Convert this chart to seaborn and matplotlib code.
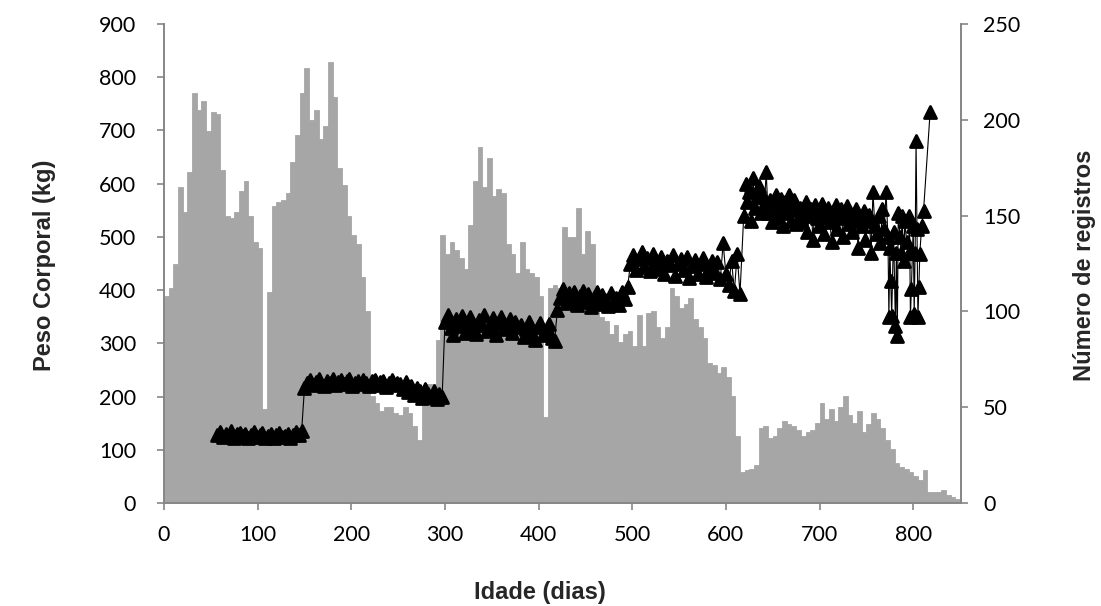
import numpy as np
import pandas as pd
import matplotlib
matplotlib.use("Agg")
import matplotlib.pyplot as plt
from matplotlib.markers import MarkerStyle
import seaborn as sns

# ---------------- data ----------------
# number of records per 5-day age class (0-5, 5-10, ... 845-850)
registros = [
    108, 112, 125, 165, 152, 173, 214, 205, 210, 194,   # 0-45
    204, 203, 174, 150, 149, 152, 163, 168, 150, 136,   # 50-95
    133, 49, 110, 155, 157, 158, 162, 178, 192, 214,    # 100-145
    227, 200, 205, 190, 197, 230, 212, 175, 166, 150,   # 150-195
    140, 135, 118, 100, 56, 52, 48, 50, 50, 47,         # 200-245
    46, 50, 47, 40, 33, 58, 62, 62, 85, 140,            # 250-295
    130, 136, 132, 128, 122, 145, 168, 186, 165, 180,   # 300-345
    160, 164, 162, 135, 130, 120, 136, 122, 120, 118,   # 350-395
    108, 45, 112, 114, 112, 144, 139, 139, 154, 130,    # 400-445
    142, 135, 110, 97, 95, 88, 93, 84, 88, 90,          # 450-495
    82, 98, 82, 99, 100, 92, 86, 92, 112, 108,          # 500-545
    102, 104, 107, 96, 92, 86, 73, 72, 68, 71,          # 550-595
    66, 56, 35, 16, 17, 18, 20, 39, 40, 34,             # 600-645
    35, 39, 43, 41, 40, 38, 35, 37, 38, 42,             # 650-695
    52, 44, 49, 43, 50, 56, 46, 42, 48, 37,             # 700-745
    41, 47, 44, 39, 33, 28, 21, 19, 18, 16,             # 750-795
    14, 12, 17, 6, 6, 6, 7, 4, 3, 2,                    # 800-845
]
largura_classe = 5

# body weight (kg) by age (days), in chronological order
peso_a = [128, 133, 124, 130, 126, 135, 123, 129, 132, 125, 130, 122, 127, 133, 124, 128,
          131, 123, 126, 130, 122, 127, 132, 124, 126, 130, 123, 128, 133, 127, 136]
dias_a = np.arange(57, 148, 3)
peso_b1 = [217, 226, 231, 222, 228, 233, 224, 219, 230, 226, 233, 221, 227, 231, 224, 229, 233,
           220, 226, 230, 223, 232, 225, 219, 229, 232, 222, 227, 230, 218, 225, 231, 221, 226]
dias_b1 = np.arange(150, 250, 3)
peso_b2 = [224, 214, 227, 208, 220, 203, 216, 210, 198, 214, 205, 200, 211, 196, 205, 200]
dias_b2 = np.arange(252, 298, 3)
peso_c1 = [341, 353, 328, 315, 346, 333, 352, 320, 338, 349, 326, 317, 344, 335, 353, 323,
           330, 347, 316, 339, 350, 327, 334, 345, 319, 341, 330]
dias_c1 = np.arange(300, 379, 3)
peso_c2 = [334, 312, 327, 340, 318, 306, 331, 338, 315, 324, 336, 310, 304]
dias_c2 = np.arange(381, 418, 3)
peso_d = [362, 385, 402, 376, 394, 380, 397, 372, 388, 398, 377, 392, 369, 385, 396, 374,
          390, 381, 370, 394, 378, 386, 372, 397, 383, 405]
dias_d = np.arange(420, 496, 3)
peso_e = [450, 466, 438, 458, 472, 444, 460, 435, 468, 452, 440, 463, 430, 455, 447, 466,
          426, 450, 458, 437, 462, 422, 445, 456, 430, 450, 460, 425, 441, 455, 432, 452,
          420, 488, 430, 410, 455, 398, 468, 392]
dias_e = np.arange(498, 616, 3)
peso_f1 = [540, 600, 565, 585, 530, 610, 555, 575, 595, 545, 580, 560]
dias_f1 = np.arange(619, 642, 2)
peso_f2 = [621, 545, 570, 528, 560, 578, 535, 552, 572, 520, 565, 545, 578, 530, 558, 570,
           525, 550]
dias_f2 = np.arange(643, 678, 2)
peso_f3 = [555, 528, 545, 565, 510, 540, 552, 495, 560, 535, 520, 548, 562, 505, 538, 555,
           528, 490, 545, 560, 515, 535, 552, 500, 542, 558, 525]
dias_f3 = np.arange(679, 732, 2)
peso_f4 = [545, 510, 530, 552, 480, 538, 520, 548, 495, 530, 542, 470, 584, 520, 505, 540,
           488, 552, 515, 584]
dias_f4 = np.arange(733, 772, 2)
dias_f5 = [773, 774, 775, 776, 777, 779, 781, 782, 783, 784, 786, 787, 788, 790, 791, 793,
           795, 796, 797, 798, 800, 801, 802, 803, 804, 805, 806, 807, 809, 811, 818]
peso_f5 = [500, 350, 480, 418, 352, 510, 333, 470, 314, 545, 500, 470, 540, 455, 530, 490,
           470, 540, 349, 402, 520, 355, 470, 681, 515, 349, 405, 468, 521, 549, 734]

x_ticks = [0, 100, 200, 300, 400, 500, 600, 700, 800]
y_left_ticks = [0, 100, 200, 300, 400, 500, 600, 700, 800, 900]
y_right_ticks = [0, 50, 100, 150, 200, 250]

titulo_x = "Idade (dias)"
titulo_y_esq = "Peso Corporal (kg)"
titulo_y_dir = "Número de registros"

# ---------------- tables ----------------
n_classes = len(registros)
df_reg = pd.DataFrame({"dia": np.arange(n_classes) * largura_classe + largura_classe / 2,
                       "n": registros})

dias_peso = np.concatenate([dias_a, dias_b1, dias_b2, dias_c1, dias_c2, dias_d, dias_e,
                            dias_f1, dias_f2, dias_f3, dias_f4, dias_f5])
pesos = np.concatenate([peso_a, peso_b1, peso_b2, peso_c1, peso_c2, peso_d, peso_e,
                        peso_f1, peso_f2, peso_f3, peso_f4, peso_f5])
df_peso = pd.DataFrame({"dia": dias_peso, "peso": pesos})

# ---------------- style ----------------
sns.set_style("white")
plt.rcParams["font.family"] = ["Lato", "DejaVu Sans"]
spine_col = "#868686"
bar_col = "#a6a6a6"

W, H = 1101, 606
fig = plt.figure(figsize=(W / 100, H / 100), dpi=100)
ax_l = fig.add_axes([164 / W, 1 - 503 / H, (961 - 164) / W, (503 - 24) / H])
ax_r = ax_l.twinx()
ax_l.set_zorder(ax_r.get_zorder() + 1)
ax_l.patch.set_visible(False)

sns.histplot(data=df_reg, x="dia", weights="n", binwidth=largura_classe,
             binrange=(0, n_classes * largura_classe), ax=ax_r,
             color=bar_col, alpha=1, edgecolor=bar_col, linewidth=0.6)

sns.lineplot(data=df_peso, x="dia", y="peso", ax=ax_l, estimator=None, sort=False,
             color="black", linewidth=0.8,
             marker=MarkerStyle("^", joinstyle="round"), markersize=9,
             markeredgecolor="black", markeredgewidth=2.0)
for ln in ax_l.lines:
    ln.set_solid_joinstyle("round")
    ln.set_markeredgewidth(2.0)

ax_l.set_xlim(0, 851)
ax_l.set_ylim(0, 900)
ax_r.set_ylim(0, 250)
ax_l.set_xticks(x_ticks)
ax_l.set_yticks(y_left_ticks)
ax_r.set_yticks(y_right_ticks)
for a in (ax_l, ax_r):
    a.set_xlabel("")
    a.set_ylabel("")
    a.grid(False)

for a in (ax_l, ax_r):
    a.spines["top"].set_visible(False)
ax_l.spines["right"].set_visible(False)
ax_r.spines["left"].set_visible(False)
ax_r.spines["bottom"].set_visible(False)
for s in ("left", "bottom"):
    ax_l.spines[s].set_color(spine_col)
    ax_l.spines[s].set_linewidth(1.4)
ax_r.spines["right"].set_color(spine_col)
ax_r.spines["right"].set_linewidth(1.4)

fs = 15.5
ax_l.tick_params(axis="y", left=True, length=5, width=1.2, color=spine_col, pad=15,
                 labelsize=fs, labelcolor="black")
ax_l.tick_params(axis="x", bottom=True, length=5, width=1.2, color=spine_col, pad=11,
                 labelsize=fs, labelcolor="black")
ax_r.tick_params(axis="y", right=True, length=5, width=1.2, color=spine_col, pad=11,
                 labelsize=fs, labelcolor="black")

tfont = dict(family=["Liberation Sans", "DejaVu Sans"], weight="bold", fontsize=17)
fig.text(540 / W, 1 - 592 / H, titulo_x, ha="center", va="center", **tfont)
fig.text(45 / W, 1 - 265 / H, titulo_y_esq, ha="center", va="center", rotation=90, **tfont)
fig.text(1085 / W, 1 - 265 / H, titulo_y_dir, ha="center", va="center", rotation=90, **tfont)

fig.savefig("out.png", dpi=100)
